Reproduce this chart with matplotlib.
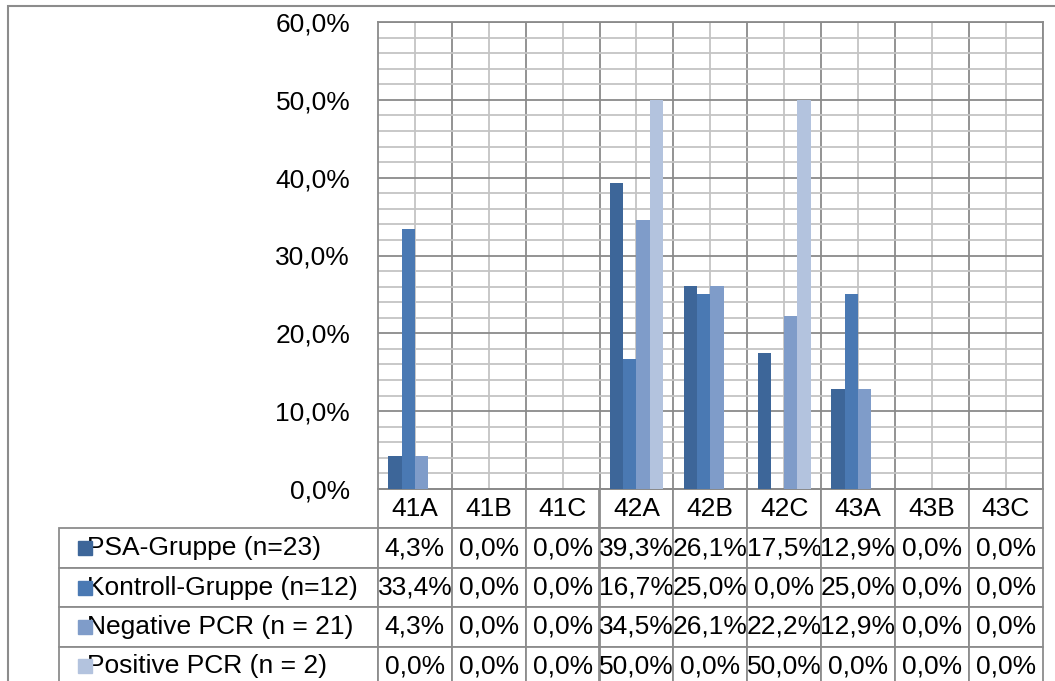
import matplotlib
matplotlib.use("Agg")
import matplotlib.pyplot as plt
import numpy as np
from matplotlib.patches import Rectangle
from matplotlib.ticker import FuncFormatter, MultipleLocator

plt.rcParams['font.family'] = ['Liberation Sans', 'DejaVu Sans']

categories = ['41A', '41B', '41C', '42A', '42B', '42C', '43A', '43B', '43C']
series_names = ['PSA-Gruppe (n=23)', 'Kontroll-Gruppe (n=12)',
                'Negative PCR (n = 21)', 'Positive PCR (n = 2)']
psa = [4.3, 0.0, 0.0, 39.3, 26.1, 17.5, 12.9, 0.0, 0.0]
kontroll = [33.4, 0.0, 0.0, 16.7, 25.0, 0.0, 25.0, 0.0, 0.0]
negativ = [4.3, 0.0, 0.0, 34.5, 26.1, 22.2, 12.9, 0.0, 0.0]
positiv = [0.0, 0.0, 0.0, 50.0, 0.0, 50.0, 0.0, 0.0, 0.0]
colors = ['#3d6699', '#4a79b3', '#7f9cc9', '#b3c3de']

W, H = 1055, 681
FS = 19
GRID_MAJOR = '#8a8a8a'
GRID_MINOR = '#c4c4c4'


def pct(v, pos=None):
    return ('%.1f%%' % v).replace('.', ',')


fig = plt.figure(figsize=(W / 100, H / 100), dpi=100)
# aussenrahmen (diagrammbereich)
fig.patches.append(Rectangle((8 / W, -0.1), 1.2, 1 - 6 / H + 0.1, transform=fig.transFigure,
                             fill=False, edgecolor='#8c8c8c', linewidth=1.5))

ax_l, ax_r, ax_t, ax_b = 378, 1042.5, 22, 489
ax = fig.add_axes([ax_l / W, (H - ax_b) / H, (ax_r - ax_l) / W, (ax_b - ax_t) / H])

data = [psa, kontroll, negativ, positiv]
xs = np.arange(len(categories))
bw = 0.18
for i, (vals, col) in enumerate(zip(data, colors)):
    ax.bar(xs + (i - 1.5) * bw, vals, width=bw, color=col, zorder=3, label=series_names[i])

ax.set_xlim(-0.5, len(categories) - 0.5)
ax.set_ylim(0, 60)
ax.yaxis.set_major_locator(MultipleLocator(10))
ax.yaxis.set_minor_locator(MultipleLocator(2))
ax.yaxis.set_major_formatter(FuncFormatter(pct))
ax.set_xticks(xs + 0.5, minor=False)
ax.set_xticks(xs, minor=True)
ax.tick_params(axis='x', which='both', length=0, labelbottom=False)
ax.tick_params(axis='y', which='both', length=0, labelsize=FS, pad=20)
ax.grid(True, which='major', color=GRID_MAJOR, linewidth=1.3, zorder=1)
ax.grid(True, which='minor', color=GRID_MINOR, linewidth=1.3, zorder=0)
ax.set_axisbelow(True)
for s in ax.spines.values():
    s.set_color(GRID_MAJOR)
    s.set_linewidth(1.3)

# datentabelle
cell_text = [[pct(v) for v in row] for row in data]
tbl_left = 69
row_h = 39.4
n_rows = len(data) + 1
axw = ax_r - ax_l
axh = ax_b - ax_t
tbl = ax.table(cellText=cell_text, rowLabels=series_names, colLabels=categories,
               cellLoc='center', rowLoc='left',
               bbox=[0, -n_rows * row_h / axh, 1, n_rows * row_h / axh])
tbl.auto_set_font_size(False)
tbl.set_fontsize(FS)
# die tabelle skaliert beim zeichnen noch um ca. 3 %, daher korrigieren
label_w = (ax_l - tbl_left) / axw * 309.0 / 318.4
for (r, c), cell in tbl.get_celld().items():
    cell.set_edgecolor('#8c8c8c')
    cell.set_linewidth(1.3)
    if c == -1:
        cell.set_width(label_w)
        cell.PAD = 0.09
    else:
        cell.set_width(1 / len(categories))
        cell.PAD = 0.0

# legendensymbole in der tabelle
for i, col in enumerate(colors):
    ax.plot([(85 - ax_l) / axw], [-(i + 1.5) * row_h / axh], marker='s', markersize=10,
            color=col, transform=ax.transAxes, clip_on=False, linestyle='none')

fig.savefig('out.png', dpi=100)
